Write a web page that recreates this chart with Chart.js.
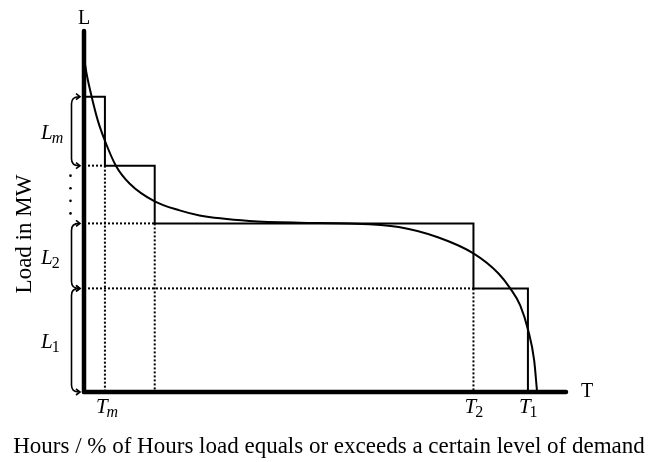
<!DOCTYPE html>
<html>
<head>
<meta charset="utf-8">
<script src="https://cdn.jsdelivr.net/npm/chart.js@4.4.0/dist/chart.umd.min.js"></script>
<style>
  html, body { margin: 0; padding: 0; background: #fff; }
</style>
</head>
<body>
<canvas id="ldc" width="654" height="462"></canvas>
<script>
// load duration curve: x = % of hours (0..100), y = load (0..100)
const curveX = [0, 0.62, 1.59, 2.89, 4.34, 6.61, 9.5, 14.67, 19.83, 23.97, 34.3, 44.63, 54.96, 65.29, 73.55, 80.79, 85.95, 88.43, 90.5, 92.15, 93.39, 94.0];
const curveY = [92.5, 87.6, 81.8, 75.1, 69.6, 62.7, 57.7, 52.8, 50.3, 48.9, 47.4, 46.9, 46.7, 45.7, 42.8, 38.4, 32.9, 28.7, 24.0, 17.1, 8.8, 0];

// step approximation of the curve
const stepT = [4.34, 14.67, 80.8, 92.1];   // Tm, .., T2, T1
const stepL = [81.8, 62.7, 46.7, 28.7];    // top of each block
const tickSubs = ['m', null, '2', '1'];    // subscripts for the T labels

// braces on the load axis: [bottom, top, subscript]
const braces = [[62.7, 81.8, 'm'], [28.7, 46.7, '2'], [0, 28.7, '1']];

const xTitle = 'Hours / % of Hours load equals or exceeds a certain level of demand';
const yTitle = 'Load in MW';

const SERIF = '"Liberation Serif", "DejaVu Serif", serif';

const pts = (xs, ys) => xs.map((v, i) => ({ x: v, y: ys[i] }));

// step outline
const stepPts = [{ x: 0, y: stepL[0] }];
stepT.forEach((t, i) => {
    stepPts.push({ x: t, y: stepL[i] });
    stepPts.push({ x: t, y: i + 1 < stepL.length ? stepL[i + 1] : 0 });
});

// dotted guide lines
const guides = [];
for (let i = 0; i < stepT.length - 1; i++) {
    guides.push([{ x: 0, y: stepL[i + 1] }, { x: stepT[i], y: stepL[i + 1] }]);
    guides.push([{ x: stepT[i], y: stepL[i + 1] }, { x: stepT[i], y: 0 }]);
}

const line = (data, extra) => Object.assign({
    data, showLine: true, pointRadius: 0, borderColor: '#000',
    borderWidth: 2, fill: false, clip: false
}, extra);

const datasets = [
    line([{ x: 0, y: 0 }, { x: 0, y: 100 }], { borderWidth: 4.5, borderCapStyle: 'round' }),
    line([{ x: 0, y: 0 }, { x: 100, y: 0 }], { borderWidth: 4.5, borderCapStyle: 'round' }),
    line(pts(curveX, curveY), { cubicInterpolationMode: 'monotone' }),
    line(stepPts),
    ...guides.map(g => line(g, { borderDash: [2, 2] }))
];

function drawSub(ctx, main, sub, x, baseline, size) {
    ctx.textAlign = 'left';
    ctx.textBaseline = 'alphabetic';
    ctx.font = 'italic ' + size + 'px ' + SERIF;
    ctx.fillText(main, x, baseline);
    const w = ctx.measureText(main).width;
    ctx.font = (sub.match(/[a-z]/) ? 'italic ' : '') + Math.round(size * 0.78) + 'px ' + SERIF;
    ctx.fillText(sub, x + w - 1, baseline + 4);
}

const annotate = {
    id: 'annotate',
    afterDatasetsDraw(chart) {
        const { ctx } = chart;
        const xs = chart.scales.x, ys = chart.scales.y;
        const ax = xs.getPixelForValue(0), ay = ys.getPixelForValue(0);
        ctx.save();
        ctx.fillStyle = '#000';
        ctx.strokeStyle = '#000';

        // axis letters
        ctx.font = '20px ' + SERIF;
        ctx.textAlign = 'center';
        ctx.textBaseline = 'middle';
        ctx.fillText('L', ax, ys.getPixelForValue(100) - 12);
        ctx.fillText('T', xs.getPixelForValue(100) + 21, ay);

        // T tick labels
        stepT.forEach((t, i) => {
            if (!tickSubs[i]) return;
            const px = xs.getPixelForValue(t);
            drawSub(ctx, 'T', tickSubs[i], px - 9, ay + 21, 21);
        });

        // braces with arrow tips
        const bx = ax - 12.5, tip = ax - 4;
        ctx.lineWidth = 1.6;
        braces.forEach(([lo, hi, sub]) => {
            const top = ys.getPixelForValue(hi), bot = ys.getPixelForValue(lo);
            ctx.beginPath();
            ctx.moveTo(tip - 1, top);
            ctx.quadraticCurveTo(bx, top, bx, top + 7);
            ctx.lineTo(bx, bot - 7);
            ctx.quadraticCurveTo(bx, bot, tip - 1, bot);
            ctx.stroke();
            [top, bot].forEach(yy => {
                ctx.beginPath();
                ctx.moveTo(tip - 4, yy - 3);
                ctx.lineTo(tip, yy);
                ctx.lineTo(tip - 4, yy + 3);
                ctx.stroke();
            });
            drawSub(ctx, 'L', sub, ax - 43, (top + bot) / 2 + 8, 21);
        });

        // vertical dots between the L_m and L_2 braces
        const d0 = ys.getPixelForValue(braces[0][0]), d1 = ys.getPixelForValue(braces[1][1]);
        for (let k = 0; k < 4; k++) {
            const yy = d0 + 10 + k * (d1 - d0 - 20) / 3;
            ctx.beginPath();
            ctx.arc(bx - 1, yy, 1.3, 0, Math.PI * 2);
            ctx.fill();
        }

        // axis titles
        ctx.font = '23px ' + SERIF;
        ctx.textAlign = 'center';
        ctx.textBaseline = 'middle';
        ctx.fillText(xTitle, 329, chart.height - 15);
        ctx.save();
        ctx.translate(25, 234);
        ctx.rotate(-Math.PI / 2);
        ctx.fillText(yTitle, 0, 0);
        ctx.restore();

        ctx.restore();
    }
};

new Chart(document.getElementById('ldc'), {
    type: 'scatter',
    data: { datasets },
    options: {
        responsive: false,
        animation: false,
        events: [],
        layout: { padding: { left: 84, right: 88, top: 31, bottom: 70 } },
        plugins: { legend: { display: false }, tooltip: { enabled: false } },
        scales: {
            x: { type: 'linear', min: 0, max: 100, display: false },
            y: { type: 'linear', min: 0, max: 100, display: false }
        }
    },
    plugins: [annotate]
});
</script>
</body>
</html>
